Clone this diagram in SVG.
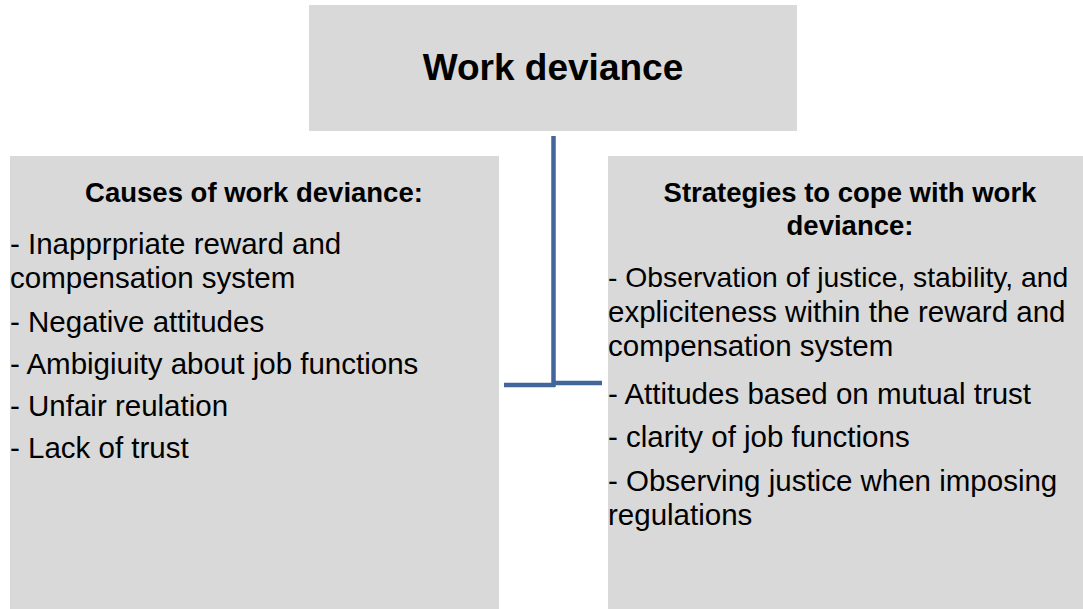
<svg xmlns="http://www.w3.org/2000/svg" width="1083" height="609" viewBox="0 0 1083 609">
<style>
.box{fill:#d9d9d9}
.t{font-family:"Liberation Sans",Arial,sans-serif;fill:#000}
.title{font-size:37px;font-weight:bold;text-anchor:middle}
.head{font-size:27.5px;font-weight:bold;text-anchor:middle}
.body{font-size:29.5px}
.conn{stroke:#41679a;stroke-width:4.5;fill:none}
</style>
<rect width="1083" height="609" fill="#ffffff"/>
<g id="node-top">
<rect class="box" x="309" y="5" width="488" height="126"/>
<text class="t title" x="553" y="80">Work deviance</text>
</g>
<g id="node-causes">
<rect class="box" x="10" y="156" width="489" height="453"/>
<text class="t head" x="254" y="202">Causes of work deviance:</text>
<text class="t body" x="10" y="254">- Inapprpriate reward and</text>
<text class="t body" x="10" y="288">compensation system</text>
<text class="t body" x="10" y="332">- Negative attitudes</text>
<text class="t body" x="10" y="374">- Ambigiuity about job functions</text>
<text class="t body" x="10" y="416">- Unfair reulation</text>
<text class="t body" x="10" y="458">- Lack of trust</text>
</g>
<g id="node-strategies">
<rect class="box" x="608" y="156" width="475" height="453"/>
<text class="t head" x="850" y="202">Strategies to cope with work</text>
<text class="t head" x="850" y="235">deviance:</text>
<text class="t body" x="608" y="287" style="font-size:28.3px">- Observation of justice, stability, and</text>
<text class="t body" x="608" y="322">expliciteness within the reward and</text>
<text class="t body" x="608" y="356">compensation system</text>
<text class="t body" x="608" y="404">- Attitudes based on mutual trust</text>
<text class="t body" x="608" y="447">- clarity of job functions</text>
<text class="t body" x="608" y="491">- Observing justice when imposing</text>
<text class="t body" x="608" y="525">regulations</text>
</g>
<g id="connectors">
<line class="conn" x1="553.5" y1="136" x2="553.5" y2="387"/>
<line class="conn" x1="504" y1="385" x2="555" y2="385"/>
<line class="conn" x1="553" y1="383" x2="602" y2="383"/>
</g>
</svg>
